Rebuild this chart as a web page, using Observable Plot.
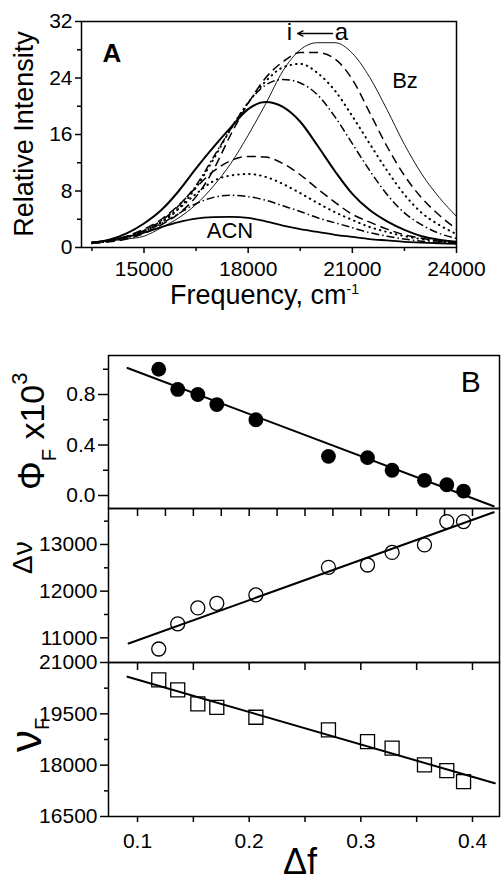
<!DOCTYPE html>
<html><head><meta charset="utf-8">
<script src="https://cdn.jsdelivr.net/npm/d3@7"></script>
<script src="https://cdn.jsdelivr.net/npm/@observablehq/plot@0.6"></script>
<style>
html,body{margin:0;padding:0;background:#fff;}
#wrap{position:relative;width:502px;height:882px;overflow:hidden;background:#fff;}
</style></head><body><div id="wrap"></div>
<script>
// ---------- Panel A data: emission spectra (frequency in cm-1, relative intensity) ----------
const freq = [13500,14000,14500,15000,15500,16000,16500,17000,17500,18000,18500,19000,19500,20000,20500,21000,21500,22000,22500,23000,23500,24000];
const specA = [0.7,0.9,1.2,1.6,2.8,4.2,6.1,8.7,11.9,15.9,20.3,25.0,28.0,29.0,29.0,27.5,24.1,19.5,14.6,10.4,7.1,4.4]; // Bz
const specB = [0.6,0.8,1.2,2.0,3.2,4.8,7.2,11.0,16.0,20.4,24.0,26.3,27.6,27.6,26.7,23.8,19.1,14.3,10.2,7.0,4.6,2.6];
const specC = [0.6,0.9,1.4,2.2,3.5,5.5,8.5,12.5,16.8,20.5,23.5,25.5,26.0,24.7,22.2,18.6,14.7,10.9,7.5,4.9,3.2,1.9];
const specD = [0.7,1.0,1.5,2.4,3.8,5.9,8.8,12.8,16.8,20.5,23.0,23.8,23.3,21.6,18.5,14.7,10.9,7.5,4.9,3.2,2.0,1.3];
const specE = [0.7,1.1,2.0,3.4,5.3,8.0,11.2,14.2,17.0,19.6,20.6,19.9,17.8,14.4,10.8,7.6,5.3,3.7,2.5,1.6,1.1,0.8];
const specF = [0.7,1.0,1.6,2.6,4.0,6.0,8.5,10.8,12.3,12.9,12.8,11.9,10.3,8.3,6.4,4.7,3.6,2.6,1.8,1.3,0.9,0.7];
const specG = [0.7,1.0,1.5,2.4,3.7,5.5,7.6,9.4,10.2,10.4,10.0,9.0,7.7,6.3,5.0,3.9,2.9,2.2,1.6,1.2,0.9,0.7];
const specH = [0.7,1.0,1.5,2.3,3.4,4.8,6.2,7.1,7.4,7.2,6.7,5.9,5.1,4.2,3.5,2.8,2.1,1.6,1.2,0.9,0.7,0.6];
const specI = [0.7,1.0,1.5,2.1,2.9,3.6,4.1,4.3,4.35,4.2,3.7,3.1,2.6,2.2,1.8,1.5,1.2,1.0,0.8,0.7,0.6,0.5]; // ACN
const seriesIds = ["a","b","c","d","e","f","g","h","i"];
const freqTicks = [15000,18000,21000,24000];
const freqMinor = [13500,16500,19500,22500];
const intTicks = [0,8,16,24,32];
const intMinor = [4,12,20,28];

// ---------- Panel B data ----------
const deltaF  = [0.119,0.136,0.154,0.171,0.206,0.271,0.306,0.328,0.357,0.377,0.392];
const phiF    = [1.00,0.84,0.80,0.72,0.60,0.31,0.30,0.20,0.12,0.085,0.035];
const deltaNu = [10760,11300,11640,11740,11920,12510,12560,12830,12990,13490,13490];
const nuF     = [20490,20200,19790,19690,19400,19030,18690,18500,18010,17840,17520];
const fitPhiX = [0.091,0.419], fitPhiY = [1.01,-0.085];
const fitDnuX = [0.092,0.419], fitDnuY = [10878,13690];
const fitNuX  = [0.091,0.420], fitNuY  = [20582,17470];
const dfTicks = [0.1,0.2,0.3,0.4];
const dfMinor = [0.15,0.25,0.35];
const dfFine  = [0.1,0.125,0.15,0.175,0.2,0.225,0.25,0.275,0.3,0.325,0.35,0.375,0.4];
const dfMid   = [0.1,0.15,0.2,0.25,0.3,0.35,0.4];
const phiTicks = [0,0.4,0.8], phiMinor = [0.2,0.6,1.0];
const dnuTicks = [11000,12000,13000], dnuMinor = [11500,12500,13500];
const nuTicks = [16500,18000,19500,21000], nuMinor = [17250,18750,20250];

// annotations (data coordinates)
const annA = [
  {f:14093, v:26.2, t:"A", size:26, weight:"bold"},
  {f:19205, v:29.3, t:"i", size:24, weight:"normal"},
  {f:20702, v:29.3, t:"a", size:24, weight:"normal"},
  {f:22531, v:22.5, t:"Bz", size:22, weight:"normal"},
  {f:17491, v:1.27, t:"ACN", size:22, weight:"normal"}
];
const arrowA = [{x1:20429, x2:19421, y:30.3}];
const annB = [{x:0.399, y:0.818, t:"B"}];

// ---------- helpers ----------
const FONT = '"Liberation Sans", Arial, Helvetica, sans-serif';
const wrap = document.getElementById("wrap");
function place(svg, top){
  svg.style.position="absolute"; svg.style.left="0px"; svg.style.top=top+"px"; svg.style.overflow="visible";
  wrap.appendChild(svg); return svg;
}
const blank = () => "";

// ---------- Panel A ----------
const specs = {a:specA,b:specB,c:specC,d:specD,e:specE,f:specF,g:specG,h:specH,i:specI};
const lineStyle = {
  a:{w:0.9}, b:{w:1.5,dash:"9,5"}, c:{w:2,dash:"0.5,5",cap:"round"}, d:{w:1.5,dash:"8,3,1.5,3"},
  e:{w:2}, f:{w:1.5,dash:"9,5"}, g:{w:2,dash:"0.5,5",cap:"round"}, h:{w:1.5,dash:"8,3,1.5,3"}, i:{w:1.8}
};
const lineMarks = seriesIds.map(id => Plot.line(freq.map((f,k)=>({f, v: specs[id][k]})), {
  x:"f", y:"v", stroke:"#000", strokeWidth: lineStyle[id].w, strokeDasharray: lineStyle[id].dash,
  strokeLinecap: lineStyle[id].cap || "butt", curve:"monotone-x"
}));
const plotA = Plot.plot({
  width:502, height:320, marginLeft:81, marginRight:46, marginTop:21, marginBottom:73,
  x:{domain:[13200,24000]}, y:{domain:[0,32]},
  style:{fontFamily:FONT, fontSize:"21px", background:"transparent", color:"#000"},
  marks:[
    ...lineMarks,
    Plot.arrow(arrowA, {x1:"x1", x2:"x2", y1:"y", y2:"y", stroke:"#000", strokeWidth:1.3, headLength:7, headAngle:50}),
    Plot.frame({stroke:"#000", strokeWidth:1.5}),
    Plot.axisX(freqTicks, {tickSize:6, tickPadding:8, tickFormat:"d", label:null, strokeWidth:1.5}),
    Plot.axisX(freqMinor, {tickSize:4, tickFormat:blank, label:null, strokeWidth:1.5}),
    Plot.axisY(intTicks, {tickSize:6, tickPadding:3, tickFormat:"d", label:null, strokeWidth:1.5}),
    Plot.axisY(intMinor, {tickSize:4, tickFormat:blank, label:null, strokeWidth:1.5})
  ]
});
place(plotA, 0);
{
  const sx = plotA.scale("x"), sy = plotA.scale("y");
  const g = d3.select(plotA).append("g").attr("font-family", FONT).attr("fill","#000").attr("text-anchor","start");
  annA.forEach(a => g.append("text").attr("x", sx.apply(a.f)).attr("y", sy.apply(a.v))
    .attr("text-anchor","middle").attr("font-size",a.size).attr("font-weight",a.weight).text(a.t));
  g.append("text").attr("transform","translate(33,134) rotate(-90)").attr("text-anchor","middle")
    .attr("font-size",27).text("Relative Intensity");
  const t = g.append("text").attr("x",170).attr("y",304).attr("font-size",27).attr("text-anchor","start");
  t.append("tspan").text("Frequency, cm");
  t.append("tspan").attr("dy",-10).attr("font-size",14).text("-1");
}

// ---------- Panel B (three stacked plots) ----------
const common = {width:502, marginLeft:108, marginRight:3, x:{domain:[0.074,0.4242]}};
const rows = deltaF.map((d,k)=>({d, phi:phiF[k], dnu:deltaNu[k], nu:nuF[k]}));
const line2 = (xs, ys) => xs.map((x,k)=>({x, y:ys[k]}));

const plotB1 = Plot.plot({
  ...common, height:190, marginTop:25, marginBottom:12,
  y:{domain:[-0.103,1.109]},
  style:{fontFamily:FONT, fontSize:"21px", background:"transparent", color:"#000"},
  marks:[
    Plot.line(line2(fitPhiX, fitPhiY), {x:"x", y:"y", stroke:"#000", strokeWidth:2}),
    Plot.dot(rows, {x:"d", y:"phi", r:7.4, fill:"#000", stroke:"none"}),
    Plot.frame({stroke:"#000", strokeWidth:1.5}),
    Plot.axisY(phiTicks, {tickSize:10, tickPadding:3, tickFormat:".1f", label:null, strokeWidth:1.5}),
    Plot.axisY(phiMinor, {tickSize:5, tickFormat:blank, label:null, strokeWidth:1.5}),
    Plot.axisX(dfFine, {tickSize:8, tickFormat:blank, label:null, strokeWidth:1.5})
  ]
});
place(plotB1, 330);
{
  const sx = plotB1.scale("x"), sy = plotB1.scale("y");
  const g = d3.select(plotB1).append("g").attr("font-family", FONT).attr("fill","#000");
  annB.forEach(a => g.append("text").attr("x", sx.apply(a.x)).attr("y", sy.apply(a.y))
    .attr("text-anchor","middle").attr("font-size",30).text(a.t));
  const t = g.append("text").attr("transform","translate(44,160) rotate(-90)").attr("font-size",36).attr("text-anchor","start");
  t.append("tspan").text("Φ");
  t.append("tspan").attr("dy",12).attr("font-size",20).text("F");
  t.append("tspan").attr("dy",-12).attr("font-size",34).text(" x10");
  t.append("tspan").attr("dy",-17).attr("font-size",22).text("3");
}

const plotB2 = Plot.plot({
  ...common, height:190, marginTop:18, marginBottom:18,
  y:{domain:[10471,13771]},
  style:{fontFamily:FONT, fontSize:"21px", background:"transparent", color:"#000"},
  marks:[
    Plot.line(line2(fitDnuX, fitDnuY), {x:"x", y:"y", stroke:"#000", strokeWidth:2}),
    Plot.dot(rows, {x:"d", y:"dnu", r:7, fill:"none", stroke:"#000", strokeWidth:1.3}),
    Plot.frame({stroke:"#000", strokeWidth:1.5}),
    Plot.axisY(dnuTicks, {tickSize:8, tickPadding:3, tickFormat:"d", label:null, strokeWidth:1.5}),
    Plot.axisY(dnuMinor, {tickSize:4, tickFormat:blank, label:null, strokeWidth:1.5}),
    Plot.axisX(dfMid, {tickSize:8, tickFormat:blank, label:null, strokeWidth:1.5})
  ]
});
place(plotB2, 490);
{
  const g = d3.select(plotB2).append("g").attr("font-family", FONT).attr("fill","#000");
  g.append("text").attr("transform","translate(32,84) rotate(-90)").attr("font-size",28).attr("text-anchor","start").text("Δν");
}

const plotB3 = Plot.plot({
  ...common, height:242, marginTop:22, marginBottom:66,
  y:{domain:[16500,21000]},
  style:{fontFamily:FONT, fontSize:"21px", background:"transparent", color:"#000"},
  marks:[
    Plot.line(line2(fitNuX, fitNuY), {x:"x", y:"y", stroke:"#000", strokeWidth:2}),
    Plot.dot(rows, {x:"d", y:"nu", r:7.9, symbol:"square", fill:"none", stroke:"#000", strokeWidth:1.3}),
    Plot.frame({stroke:"#000", strokeWidth:1.5}),
    Plot.axisY(nuTicks, {tickSize:8, tickPadding:3, tickFormat:"d", label:null, strokeWidth:1.5}),
    Plot.axisY(nuMinor, {tickSize:4, tickFormat:blank, label:null, strokeWidth:1.5}),
    Plot.axisX(dfTicks, {tickSize:6, tickPadding:11, tickFormat:".1f", label:null, strokeWidth:1.5}),
    Plot.axisX(dfMinor, {tickSize:6, tickFormat:blank, label:null, strokeWidth:1.5})
  ]
});
place(plotB3, 640);
{
  const g = d3.select(plotB3).append("g").attr("font-family", FONT).attr("fill","#000");
  const t = g.append("text").attr("transform","translate(41,112) rotate(-90)").attr("font-size",44).attr("text-anchor","start");
  t.append("tspan").text("ν");
  t.append("tspan").attr("dy",8).attr("font-size",20).text("F");
  g.append("text").attr("x",300).attr("y",234).attr("text-anchor","middle").attr("font-size",36).text("Δf");
}
</script></body></html>
